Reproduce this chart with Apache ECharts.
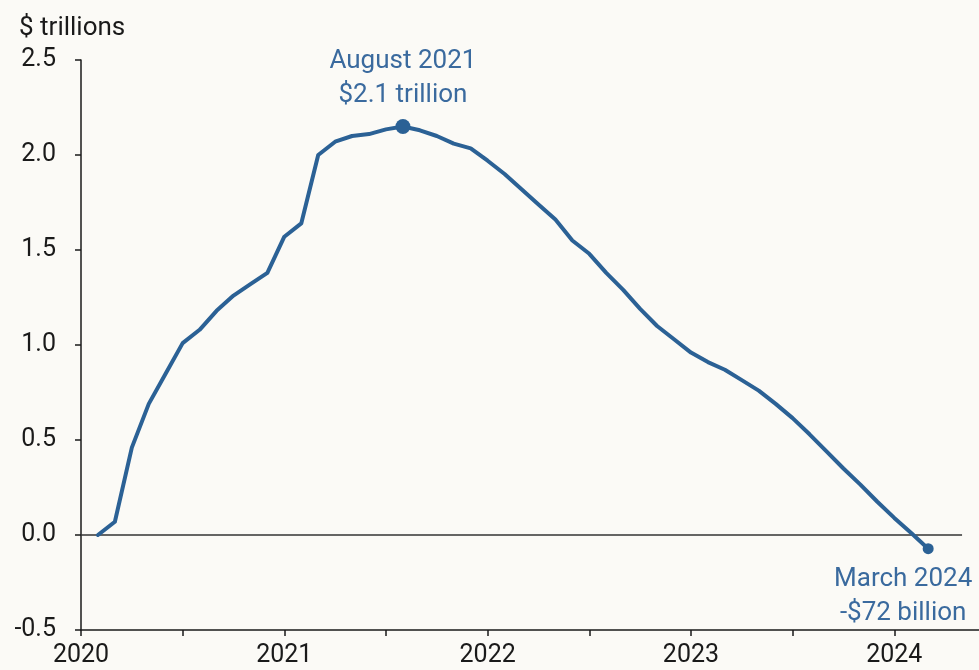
<!DOCTYPE html>
<html>
<head>
<meta charset="utf-8">
<script src="https://cdn.jsdelivr.net/npm/echarts@6/dist/echarts.min.js"></script>
<style>
html,body{margin:0;padding:0;background:#fbfaf6;}
#c{width:979px;height:670px;}
</style>
</head>
<body>
<div id="c"></div>
<script>
// Monthly categories Jan 2020 .. Jun 2024
const years = [2020, 2021, 2022, 2023, 2024];
const months = ['01','02','03','04','05','06','07','08','09','10','11','12'];
const categories = [];
years.forEach(y => months.forEach(m => { if (!(y === 2024 && +m > 6)) categories.push(y + '-' + m); }));

// Values ($ trillions), Feb 2020 .. Mar 2024
const startMonth = '2020-02';
const values = [
  0.00, 0.07, 0.46, 0.69, 0.85, 1.01, 1.08, 1.18, 1.26, 1.32, 1.38,
  1.57, 1.64, 2.00, 2.07, 2.10, 2.11, 2.135, 2.15, 2.13, 2.10, 2.06, 2.035,
  1.97, 1.90, 1.82, 1.74, 1.66, 1.55, 1.48, 1.38, 1.29, 1.19, 1.10, 1.03, 0.96,
  0.91, 0.87, 0.815, 0.76, 0.69, 0.615, 0.53, 0.44, 0.35, 0.265, 0.175, 0.09,
  0.01, -0.072
];
const yTicks = [-0.5, 0.0, 0.5, 1.0, 1.5, 2.0, 2.5];
const peakMonth = '2021-08';
const peakText = ['August 2021', '$2.1 trillion'];
const endMonth = '2024-03';
const endText = ['March 2024', '-$72 billion'];
const zeroLineEnd = '2024-05';

const startIdx = categories.indexOf(startMonth);
const lineData = categories.map((c, i) => {
  const k = i - startIdx;
  return (k >= 0 && k < values.length) ? values[k] : null;
});
const valAt = m => lineData[categories.indexOf(m)];

const font = 'Roboto, "Noto Sans", sans-serif';
const lineColor = '#2b6195';
const annColor = '#3a6a9e';
const axisColor = '#1a1a1a';

const chart = echarts.init(document.getElementById('c'), null, {renderer: 'canvas'});
chart.setOption({
  backgroundColor: '#fbfaf6',
  animation: false,
  title: {
    text: '$ trillions', left: 14, top: 10,
    textStyle: {fontFamily: font, fontSize: 26, fontWeight: 'normal', color: axisColor}
  },
  grid: {left: 81, right: 0, top: 60, bottom: 40, containLabel: false},
  xAxis: {
    type: 'category', data: categories, boundaryGap: false,
    axisLine: {onZero: false, lineStyle: {color: axisColor, width: 1.5}},
    axisTick: {show: true, length: 6, lineStyle: {color: axisColor, width: 1.5},
      interval: (i) => i % 6 === 0},
    axisLabel: {interval: (i) => i % 12 === 0, formatter: v => v.slice(0, 4),
      fontFamily: font, fontSize: 25, color: axisColor, margin: 13},
    splitLine: {show: false}
  },
  yAxis: {
    type: 'value', min: yTicks[0], max: yTicks[yTicks.length - 1], interval: 0.5,
    axisLine: {show: true, lineStyle: {color: axisColor, width: 1.5}},
    axisTick: {show: true, length: 6, lineStyle: {color: axisColor, width: 1.5}},
    axisLabel: {formatter: v => v.toFixed(1), fontFamily: font, fontSize: 25, color: axisColor, margin: 25},
    splitLine: {show: false}
  },
  series: [
    {
      type: 'line', data: lineData, showSymbol: false, symbol: 'none',
      lineStyle: {color: lineColor, width: 4, join: 'round', cap: 'round'},
      connectNulls: false, z: 3,
      markLine: {
        silent: true, symbol: ['none', 'none'],
        lineStyle: {color: '#333', width: 1.5, type: 'solid'},
        label: {show: false},
        data: [[{coord: [categories[0], 0]}, {coord: [zeroLineEnd, 0]}]],
        z: 2
      }
    },
    {
      type: 'scatter', z: 4,
      data: [
        {value: [peakMonth, valAt(peakMonth)], symbolSize: 15,
          label: {show: true, position: 'top', distance: 7, formatter: peakText.join('\n')}},
        {value: [endMonth, valAt(endMonth)], symbolSize: 11,
          label: {show: true, position: 'bottom', distance: 8, offset: [-25, 0], formatter: endText.join('\n')}}
      ],
      itemStyle: {color: lineColor, opacity: 1},
      label: {fontFamily: font, fontSize: 26, color: annColor, lineHeight: 34, align: 'center'}
    }
  ]
});
</script>
</body>
</html>
